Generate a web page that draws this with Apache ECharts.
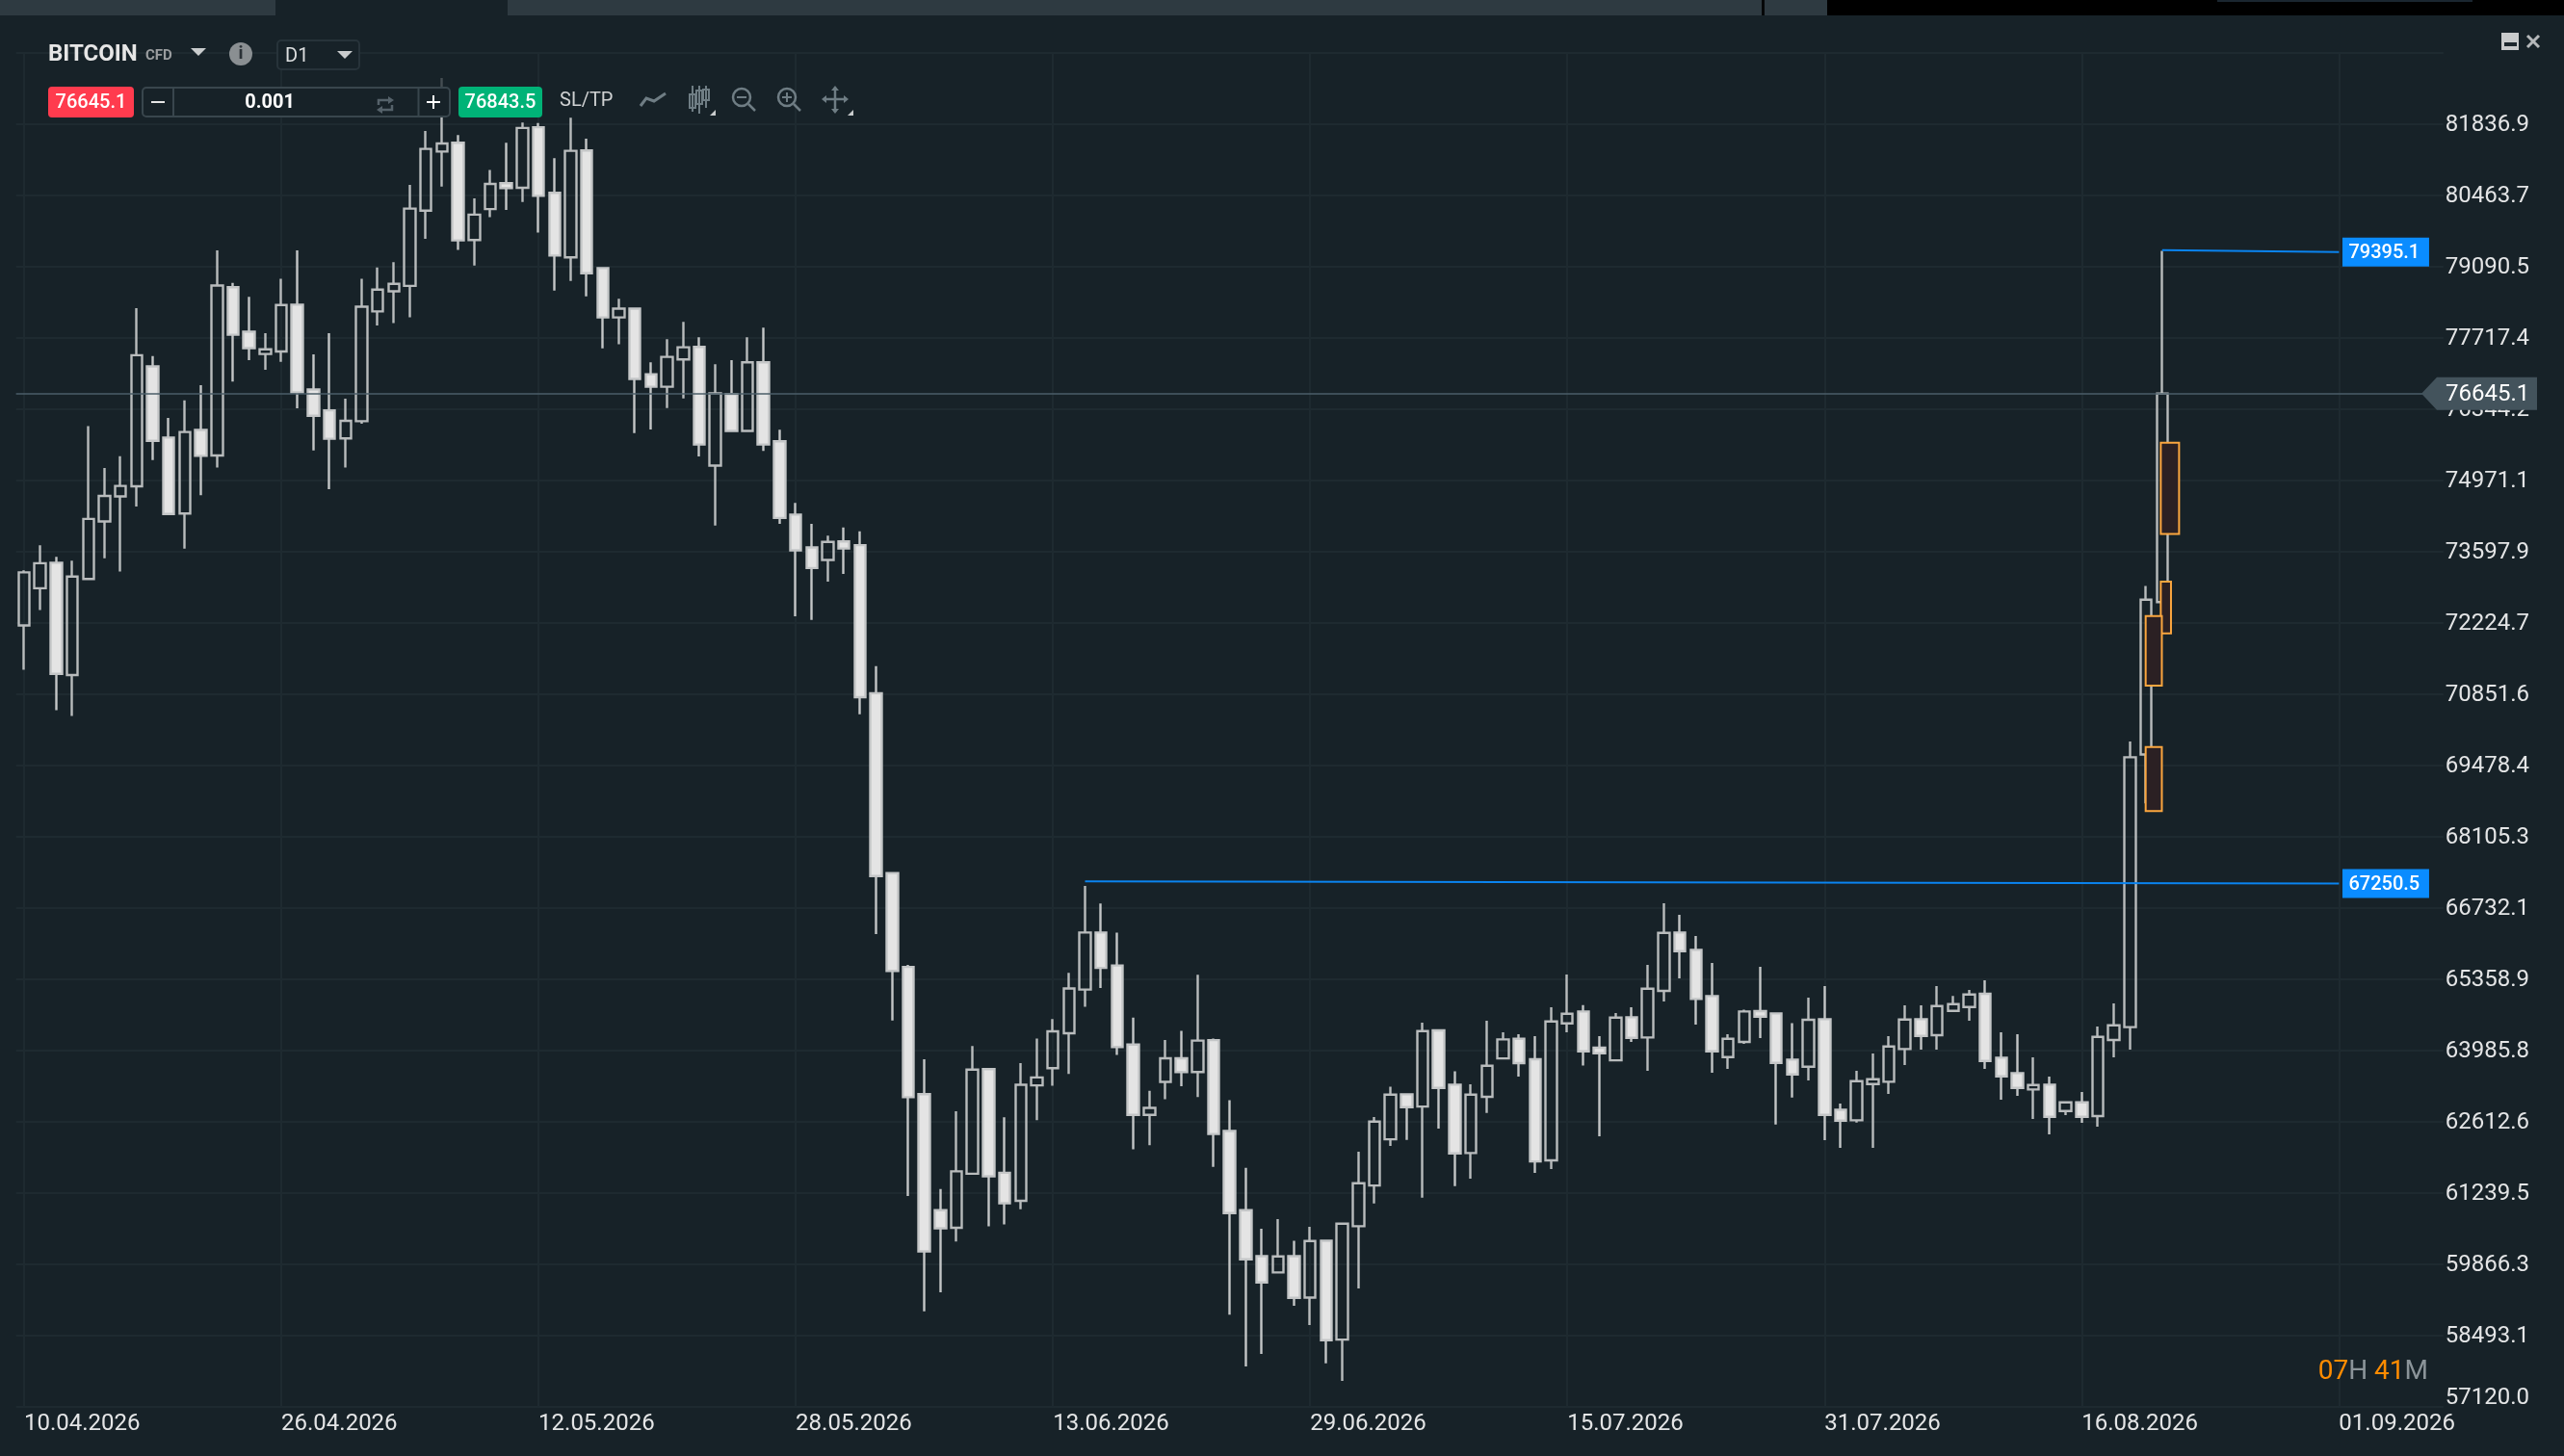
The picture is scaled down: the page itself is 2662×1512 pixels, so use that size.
<!DOCTYPE html>
<html><head><meta charset="utf-8">
<style>html,body{margin:0;padding:0;background:#172228}#c{width:2662px;height:1512px}</style>
<script src="https://cdn.jsdelivr.net/npm/echarts@6/dist/echarts.min.js"></script>
</head><body><div id="c"></div>
<script>
const dateTicksStart = [2026, 3, 10];
const dayCount = 151;
const priceTicks = ['57120.0','58493.1','59866.3','61239.5','62612.6','63985.8','65358.9','66732.1','68105.3','69478.4','70851.6','72224.7','73597.9','74971.1','76344.2','77717.4','79090.5','80463.7','81836.9'];
const opens = [72177,72894,73385,71220,73071,74182,74664,74858,77168,75799,74334,75944,75453,78697,77836,77409,77457,78359,76725,76322,75783,76113,78230,78616,78721,80170,81310,81480,79605,80201,80699,80613,81778,80514,79271,81331,79065,78113,78284,77019,76778,77303,77545,75258,76636,75925,77247,75727,74313,73681,73439,73795,73724,70870,67404,65595,63143,60908,60567,61609,63626,61628,61088,63313,63645,64317,65160,66258,65624,64099,62745,63380,63834,63569,64185,62433,60908,60022,59707,60022,59224,60319,58414,60598,61383,62274,63141,62905,64372,63326,62008,63091,63833,64211,63815,61866,64508,64737,64038,63796,64625,64236,65133,66259,65925,65034,63858,64149,64743,64700,63809,63673,64588,62843,62639,63338,63382,64013,64588,64279,64749,64823,65077,63846,63549,63233,63326,62819,62986,62720,64186,64435,69689,72628];
const closes = [73200,73377,71244,73119,74230,74673,74866,77385,75735,74326,75904,75445,78729,77779,77522,77498,78351,76669,76218,75775,76121,78319,78649,78761,80210,81361,81466,79598,80095,80685,80606,81764,80457,79306,81324,78966,78113,78284,76927,76778,77353,77538,75663,76650,75925,77247,75663,74249,73624,73283,73787,73660,70794,67347,65520,63086,60113,60558,61656,63616,61562,61041,63323,63465,64355,65179,66258,65577,64052,62745,62878,63834,63569,64175,62376,60852,59961,59515,60016,59218,60313,58401,60647,61427,62615,63134,62893,64359,63264,62002,63134,63691,64199,63741,61847,64545,64693,63970,63932,64619,64229,65176,66252,65900,64978,63969,64211,64737,64638,63747,63524,64576,62744,62633,63394,63431,64062,64582,64267,64842,64879,65065,63784,63487,63264,63320,62707,62986,62707,64248,64471,69636,72674,76645.1];
const lows = [71324,72475,70544,70431,73071,73473,73216,74471,75365,74326,73658,74689,75220,76878,77288,77103,77256,76363,75550,74801,75220,76065,77956,78005,78117,79630,80635,79413,79115,80045,80187,80336,79747,78632,78816,78518,77517,77595,75883,75954,76366,76550,75435,74100,75925,75925,75542,74135,72353,72282,73020,73170,70463,66230,64563,61183,58958,59327,60302,61609,60596,60634,60927,62641,63304,63531,64829,65188,63901,62083,62158,63048,63295,63086,61742,58892,57897,58135,59707,59063,58692,57956,57616,59397,61037,62144,62262,61148,62479,61371,61513,62782,63833,63481,61625,61699,64335,63697,62330,63796,64149,63592,64928,65374,64483,63555,63629,64112,64223,62559,63079,63407,62256,62107,62596,62107,63147,63703,64000,64000,64749,64557,63629,63035,63110,62664,62367,62738,62590,62516,63852,64002,68750,72386];
const highs = [73240,73723,73497,73425,76017,75212,75437,78294,77369,76178,76516,76805,79405,78777,78512,77811,78858,79405,77401,77811,76548,78858,79075,79180,80669,81707,82728,81629,80407,80954,81480,81870,81860,81182,81963,81558,79065,78475,78284,77247,77694,78028,77730,77211,77289,77730,77914,75947,74540,74135,73908,74065,73993,71391,67404,65633,63815,61316,62812,64071,63626,62698,63740,64213,64592,65482,67158,66817,66258,64620,63209,64185,64365,65444,64213,63029,61723,60548,60734,60319,60585,60319,60647,62033,62701,63289,63141,64520,64372,63586,63332,64557,64335,64297,64260,64817,65448,64861,64260,64706,64817,65634,66822,66599,66191,65671,64297,64774,65597,64700,64514,65003,65225,62961,63592,63926,64260,64854,64854,65225,65034,65151,65337,64335,64297,63852,63481,62986,63184,64446,64891,69939,72939,79395.1];
const currentPrice = 76645.1;
const currentPriceLabel = '76645.1';
const bidLabel = '76645.1';
const askLabel = '76843.5';
const volumeLabel = '0.001';
const upperTrend = [[133, 79409], [144, 79371]];
const lowerTrend = [[66, 67243], [144, 67205]];
const trendTags = [[144, 79371], [144, 67205]];
const trendTagLabels = ['79395.1', '67250.5'];
const orderBoxes = [[133, 75697, 73939], [133, 73022, 72022], [132, 72356, 71015], [132, 69833, 68598]];

const boxStyle = [[-1.4, 19], [-1.4, 10.6], [-0.4, 16.8], [-0.4, 16.8]];
const BG = '#172228', GRID = '#1e2a30', FONT = 'Roboto', LABEL = '#e4e5e6';

const categories = [];
for (let i = 0; i < dayCount; i++) {
  const d = new Date(Date.UTC(dateTicksStart[0], dateTicksStart[1], dateTicksStart[2] + i));
  const p = n => String(n).padStart(2, '0');
  categories.push(p(d.getUTCDate()) + '.' + p(d.getUTCMonth() + 1) + '.' + d.getUTCFullYear());
}
const candles = opens.map((o, i) => [o, closes[i], lows[i], highs[i]]);

const Z = 100;
const rect = (x, y, w, h, fill, extra) => Object.assign({type: 'rect', z: Z, silent: true, shape: {x, y, width: w, height: h, r: (extra && extra.r) || 0}, style: Object.assign({fill}, (extra && extra.style) || {})});
const text = (x, y, t, font, fill, align) => ({type: 'text', z: Z + 1, silent: true, x, y: y + 1.5, style: {text: t, font, fill, align: align || 'left', verticalAlign: 'middle'}});
const poly = (pts, fill) => ({type: 'polygon', z: Z + 1, silent: true, shape: {points: pts}, style: {fill}});
const pline = (pts, stroke, w) => ({type: 'polyline', z: Z + 1, silent: true, shape: {points: pts}, style: {stroke, lineWidth: w || 2, fill: null}});
const circ = (cx, cy, r, fill, stroke, w) => ({type: 'circle', z: Z + 1, silent: true, shape: {cx, cy, r}, style: {fill: fill || null, stroke: stroke || null, lineWidth: w || 2}});
const ICON = '#6f7d84';

const ui = [
  // top tab strip
  rect(0, 0, 286, 16, '#2e3a41'),
  rect(527, 0, 1302, 16, '#2e3a41'),
  rect(1829, 0, 3, 16, '#050708'),
  rect(1832, 0, 65, 16, '#2e3a41'),
  rect(1897, 0, 765, 16, '#000000'),
  rect(2302, 0, 265, 2, '#1a2630'),
  // dimmed part of the wick above the toolbar
  rect(452, 76, 14, 14, BG, {style: {opacity: 0.72}}),
  // instrument header
  text(50, 55, 'BITCOIN', 'bold 24px ' + FONT, '#e6e6e6'),
  text(151, 57, 'CFD', 'bold 15px ' + FONT, '#9a9d9f'),
  poly([[198, 50], [214, 50], [206, 58]], '#c9cccd'),
  circ(250, 56, 12, '#8a8f92'),
  text(250, 55, 'i', 'bold 19px ' + FONT, '#2a3136', 'center'),
  rect(288, 42, 85, 30, BG, {r: 4, style: {stroke: '#27333a', lineWidth: 2}}),
  text(296, 57, 'D1', '20px ' + FONT, '#dcdedf'),
  poly([[350, 53], [366, 53], [358, 61]], '#c9cccd'),
  // order row
  rect(50, 90, 89, 32, '#ff3b4e', {r: 4}),
  text(94.5, 105, bidLabel, '500 20px ' + FONT, '#ffffff', 'center'),
  rect(148, 91, 319, 30, BG, {r: 4, style: {stroke: '#39464d', lineWidth: 2}}),
  pline([[180, 91], [180, 121]], '#39464d', 2),
  pline([[434.5, 91], [434.5, 121]], '#39464d', 2),
  pline([[157, 106], [171, 106]], '#e6e6e6', 2),
  text(280, 105, volumeLabel, 'bold 20px ' + FONT, '#ffffff', 'center'),
  pline([[393, 109], [393, 104], [405, 104]], '#55626a', 2.5),
  poly([[403, 100], [409, 104], [403, 108]], '#55626a'),
  pline([[407, 109], [407, 114], [395, 114]], '#55626a', 2.5),
  poly([[397, 110], [391, 114], [397, 118]], '#55626a'),
  pline([[443, 106], [457, 106]], '#ffffff', 2),
  pline([[450, 99], [450, 113]], '#ffffff', 2),
  rect(476, 90, 87, 32, '#00b377', {r: 4}),
  text(519.5, 105, askLabel, '500 20px ' + FONT, '#ffffff', 'center'),
  text(581, 103, 'SL/TP', '20px ' + FONT, '#cfd1d2'),
  // tool icons
  pline([[665, 110], [671, 102], [679, 105], [691, 97]], ICON, 3),
  pline([[719, 89], [719, 116]], ICON, 2), rect(716, 98, 6, 14, BG, {style: {stroke: ICON, lineWidth: 2}}),
  pline([[726, 89], [726, 118]], ICON, 2), rect(723, 94, 6, 14, BG, {style: {stroke: ICON, lineWidth: 2}}),
  pline([[733, 89], [733, 112]], ICON, 2), rect(730, 93, 6, 11, BG, {style: {stroke: ICON, lineWidth: 2}}),
  poly([[743, 114], [743, 120], [737, 120]], '#c9cccd'),
  circ(770, 101, 9, null, ICON, 2.5), pline([[777, 108], [784, 115]], ICON, 2.5), pline([[765, 101], [775, 101]], ICON, 2),
  circ(817, 101, 9, null, ICON, 2.5), pline([[824, 108], [831, 115]], ICON, 2.5), pline([[812, 101], [822, 101]], ICON, 2), pline([[817, 96], [817, 106]], ICON, 2),
  pline([[855, 103], [879, 103]], ICON, 2.5), pline([[867, 91], [867, 116]], ICON, 2.5),
  poly([[853, 103], [858, 99], [858, 107]], ICON), poly([[881, 103], [876, 99], [876, 107]], ICON),
  poly([[867, 89], [863, 94], [871, 94]], ICON), poly([[867, 118], [863, 113], [871, 113]], ICON),
  poly([[886, 114], [886, 120], [880, 120]], '#c9cccd'),
  // window buttons
  rect(2597, 34, 18, 18, '#c9cbcc'),
  rect(2600, 44, 13, 4, '#1d272d'),
  pline([[2624, 37], [2636, 49]], '#b5b8ba', 3),
  pline([[2636, 37], [2624, 49]], '#b5b8ba', 3),
  // countdown
  {type: 'text', z: Z + 1, silent: true, x: 2521, y: 1424.5, style: {
    text: '{a|07}{b|H} {a|41}{b|M}', align: 'right', verticalAlign: 'middle', font: '28px ' + FONT, fill: '#8b9499',
    rich: {a: {fill: '#ff8c00', font: '28px ' + FONT}, b: {fill: '#8b9499', font: '28px ' + FONT}}
  }}
];

const chart = echarts.init(document.getElementById('c'), null, {renderer: 'canvas', width: 2662, height: 1512});
const bandLeft = 16.65, band = 16.69;
chart.setOption({
  animation: false,
  backgroundColor: BG,
  textStyle: {fontFamily: FONT},
  grid: {left: bandLeft, top: 55, width: band * dayCount, height: 1405.8, containLabel: false},
  xAxis: {
    type: 'category', data: categories, boundaryGap: true,
    axisLine: {show: false}, axisTick: {show: false, alignWithLabel: true, interval: 15},
    axisLabel: {interval: 15, align: 'left', margin: 6.5, color: LABEL, fontSize: 24, fontFamily: FONT},
    splitLine: {show: true, interval: 15, alignWithLabel: true, lineStyle: {color: GRID, width: 2}}
  },
  yAxis: {
    type: 'value', position: 'right', min: 57120, max: 83210.06, interval: 1373.161,
    axisLine: {show: false}, axisTick: {show: false},
    axisLabel: {margin: 2, color: LABEL, fontSize: 24, fontFamily: FONT, showMaxLabel: false, padding: [2, 0, 0, 0],
      rich: {low: {color: LABEL, fontSize: 24, fontFamily: FONT, padding: [0, 0, 20, 0]}},
      formatter: (v, i) => i === 0 ? '{low|' + priceTicks[0] + '}' : (priceTicks[i] || '')},
    splitLine: {show: true, showMaxLine: false, lineStyle: {color: GRID, width: 2}}
  },
  graphic: {elements: ui},
  series: [
    {
      name: 'BITCOIN', type: 'candlestick', data: candles, barWidth: 12, z: 3,
      itemStyle: {color: 'rgba(0,0,0,0)', color0: '#e4e4e4', borderColor: '#b9bcbd', borderColor0: '#c4c6c7', borderWidth: 2.4},
      markLine: {silent: true, symbol: 'none', animation: false, label: {show: false},
        lineStyle: {color: '#4b5e69', width: 1.5, type: 'solid'}, data: [{yAxis: currentPrice}]}
    },
    {type: 'line', data: upperTrend, symbol: 'none', z: 4, silent: true, lineStyle: {color: '#0a84f0', width: 2}},
    {type: 'line', data: lowerTrend, symbol: 'none', z: 4, silent: true, lineStyle: {color: '#0a84f0', width: 2}},
    {
      type: 'custom', z: 5, silent: true, data: orderBoxes, encode: {x: 0, y: [1, 2]},
      renderItem: (params, api) => {
        const a = api.coord([api.value(0), api.value(1)]), b = api.coord([api.value(0), api.value(2)]);
        const s = boxStyle[params.dataIndex];
        return {type: 'rect', shape: {x: a[0] + s[0], y: a[1], width: s[1], height: b[1] - a[1]},
          style: {fill: '#2b2023', stroke: '#fba63f', lineWidth: 2}};
      }
    },
    {
      type: 'custom', z: 6, silent: true, data: trendTags, encode: {x: 0, y: 1},
      renderItem: (params, api) => {
        const p = api.coord([api.value(0), api.value(1)]);
        return {type: 'group', children: [
          {type: 'rect', shape: {x: p[0] + 3.6, y: p[1] - 15, width: 90, height: 30}, style: {fill: '#0a8cff'}},
          {type: 'text', style: {x: p[0] + 47, y: p[1] + 1.5, text: trendTagLabels[params.dataIndex], fill: '#fff',
            font: '500 20px ' + FONT, align: 'center', verticalAlign: 'middle'}}
        ]};
      }
    },
    {
      type: 'custom', z: 6, silent: true, data: [[150, currentPrice]], encode: {x: 0, y: 1},
      renderItem: (params, api) => {
        const p = api.coord([api.value(0), api.value(1)]);
        const x = p[0], y = p[1];
        return {type: 'group', children: [
          {type: 'polygon', shape: {points: [[x - 14.5, y], [x + 1.5, y - 17], [x + 105.5, y - 17], [x + 105.5, y + 17], [x + 1.5, y + 17]]}, style: {fill: '#43535c'}},
          {type: 'text', style: {x: x + 10.5, y: y + 1.5, text: currentPriceLabel, fill: '#fff', font: '24px ' + FONT, align: 'left', verticalAlign: 'middle'}}
        ]};
      }
    }
  ]
});
</script></body></html>
